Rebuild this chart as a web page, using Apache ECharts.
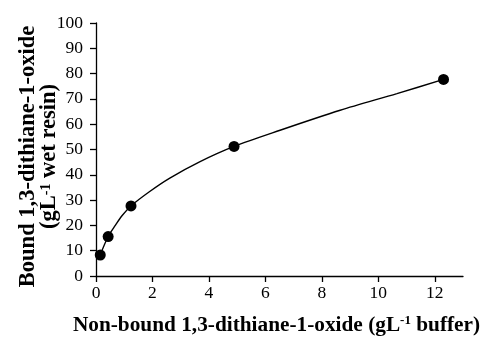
<!DOCTYPE html>
<html><head><meta charset="utf-8">
<script src="https://cdn.jsdelivr.net/npm/echarts@6/dist/echarts.min.js"></script>
<style>html,body{margin:0;padding:0;background:#fff}#c{width:486px;height:339px}</style>
</head><body><div id="c"></div>
<script>
const pointsX = [0.15, 0.43, 1.24, 4.89, 12.31];
const pointsY = [8.3, 15.6, 27.7, 51.2, 77.7];
const curveX = [0.15, 0.43, 0.69, 0.92, 1.24, 1.89, 2.6, 3.67, 4.89, 6.52, 8.65, 10.66, 12.31];
const curveY = [8.3, 15.6, 20.1, 23.8, 27.7, 33.3, 38.6, 45.1, 51.2, 57.6, 65.5, 72.1, 77.7];
const xTicks = [0, 2, 4, 6, 8, 10, 12];
const yTicks = [0, 10, 20, 30, 40, 50, 60, 70, 80, 90, 100];

const font = 'Liberation Serif';
const chart = echarts.init(document.getElementById('c'), null, {renderer: 'canvas'});
function richFor(size) {
  return {
    b: {fontFamily: font, fontWeight: 'bold', fontSize: size, color: '#000'},
    sup: {fontFamily: font, fontWeight: 'bold', fontSize: Math.round(size * 0.62), color: '#000', verticalAlign: 'top', padding: [0, 0, 9, 0]}
  };
}
chart.setOption({
  animation: false,
  grid: {left: 96, top: 23, right: 23, bottom: 63, containLabel: false, outerBoundsMode: 'none'},
  xAxis: {
    type: 'value', min: 0, max: 13,
    axisLine: {lineStyle: {color: '#000', width: 1.3}},
    axisTick: {show: true, length: 6, lineStyle: {color: '#000', width: 1.3}, customValues: xTicks},
    axisLabel: {color: '#000', fontFamily: font, fontSize: 17.5, margin: 8, customValues: xTicks},
    splitLine: {show: false},
    name: '{b|Non-bound 1,3-dithiane-1-oxide (gL}{sup|-1}{b| buffer)}',
    nameLocation: 'middle', nameGap: 38, nameMoveOverlap: false,
    nameTextStyle: {rich: richFor(21.3), padding: [0, 6, 0, 0]}
  },
  yAxis: {
    type: 'value', min: 0, max: 100, interval: 10,
    axisLine: {show: true, lineStyle: {color: '#000', width: 1.3}},
    axisTick: {show: true, length: 6, lineStyle: {color: '#000', width: 1.3}},
    axisLabel: {color: '#000', fontFamily: font, fontSize: 17.5, margin: 13, customValues: yTicks},
    splitLine: {show: false},
    name: '{b|Bound 1,3-dithiane-1-oxide}\n{b|(gL}{sup|-1}{b| wet resin)}',
    nameLocation: 'middle', nameGap: 36, nameRotate: 90, nameMoveOverlap: false,
    nameTextStyle: {rich: richFor(22.5), lineHeight: 21, padding: [0, 14, 0, 0]}
  },
  series: [
    {
      type: 'line', data: curveX.map((x, i) => [x, curveY[i]]),
      smooth: 0.3, showSymbol: false, symbol: 'none',
      lineStyle: {color: '#000', width: 1.4}, z: 2
    },
    {
      type: 'scatter', data: pointsX.map((x, i) => [x, pointsY[i]]),
      symbol: 'circle', symbolSize: 11,
      itemStyle: {color: '#000', opacity: 1}, z: 3
    }
  ]
});
</script></body></html>
